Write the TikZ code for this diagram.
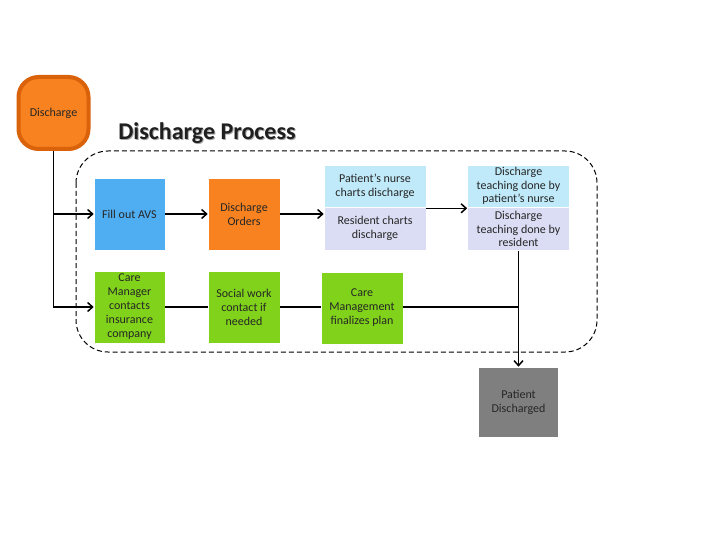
\documentclass[tikz,border=0pt]{standalone}
\usepackage{fontspec}
\setmainfont{Carlito}
\usetikzlibrary{arrows.meta}
\definecolor{dorange}{HTML}{F7821F}
\definecolor{dedge}{HTML}{D9620B}
\definecolor{avsblue}{HTML}{4FADF2}
\definecolor{lcyan}{HTML}{C0EAF9}
\definecolor{lav}{HTML}{DADDF3}
\definecolor{grn}{HTML}{80D31A}
\definecolor{pgray}{HTML}{7F7F7F}
\tikzset{
  box/.style={draw=white, line width=0.6pt, align=center, inner sep=0pt, font=\fontsize{12}{14}\selectfont, text=black!85},
  conn/.style={line width=1.5pt, black},
  arr/.style={conn, -{Straight Barb[length=5pt,width=9pt,line width=1.5pt]}},
}
\begin{document}
\begin{tikzpicture}[x=1pt,y=-1pt]
\useasboundingbox (0,0) rectangle (720,540);
\fill[white] (0,0) rectangle (720,540);
% dashed process frame
\draw[line width=1pt, dash pattern=on 5pt off 3pt, rounded corners=32pt] (76,151) rectangle (597,352);
% title
\node[font=\bfseries\fontsize{24}{28}\selectfont, text=black!35] at (208,134.2) {Discharge Process};
\node[font=\bfseries\fontsize{24}{28}\selectfont, text=black!88] (title) at (207,133) {Discharge Process};
% start node
\node[box, draw=dedge, line width=4pt, fill=dorange, rounded corners=20pt, minimum width=70pt, minimum height=72pt] (d) at (53.5,113) {Discharge};
% top row
\node[box, fill=avsblue, minimum width=71pt, minimum height=72pt] (avs) at (129.5,214) {Fill out AVS};
\node[box, fill=dorange, minimum width=72pt, minimum height=72pt] (ord) at (244,214) {Discharge\\Orders};
\node[box, fill=lcyan, minimum width=102pt, minimum height=42pt] (nurse) at (375,186) {Patient’s nurse\\charts discharge};
\node[box, fill=lav, minimum width=102pt, minimum height=43pt] (res) at (375,228.5) {Resident charts\\discharge};
\node[box, fill=lcyan, minimum width=102pt, minimum height=42pt, font=\fontsize{12}{13.5}\selectfont] (tn) at (518.5,186) {Discharge\\teaching done by\\patient’s nurse};
\node[box, fill=lav, minimum width=102pt, minimum height=43pt, font=\fontsize{12}{13.5}\selectfont] (tr) at (518.5,229) {Discharge\\teaching done by\\resident};
% bottom row
\node[box, fill=grn, minimum width=71pt, minimum height=72pt] (cm) at (129.5,307) {Care\\Manager\\contacts\\insurance\\company};
\node[box, fill=grn, minimum width=72pt, minimum height=72pt] (sw) at (244,307) {Social work\\contact if\\needed};
\node[box, fill=grn, minimum width=82pt, minimum height=72pt] (cmf) at (362,308) {Care\\Management\\finalizes plan};
% end node
\node[box, fill=pgray, minimum width=80pt, minimum height=70pt] (pd) at (518.5,402) {Patient\\Discharged};
% connectors
\coordinate (na) at ([yshift=-1pt]nurse.south east);
\coordinate (j) at (tr.south |- sw.east);
\draw[arr] (d.south) |- (avs.west);
\draw[arr] (d.south) |- (cm.west);
\draw[arr] (avs.east) -- (ord.west);
\draw[arr] (ord.east) -- (ord.east -| res.west);
\draw[arr] (na) -- (na -| tn.west);
\draw[conn] (cm.east) -- (sw.west);
\draw[conn] (sw.east) -- (sw.east -| cmf.west);
\draw[conn] (cmf.east |- sw.east) -- (j);
\draw[arr] (tr.south) -- (pd.north);
\end{tikzpicture}
\end{document}
